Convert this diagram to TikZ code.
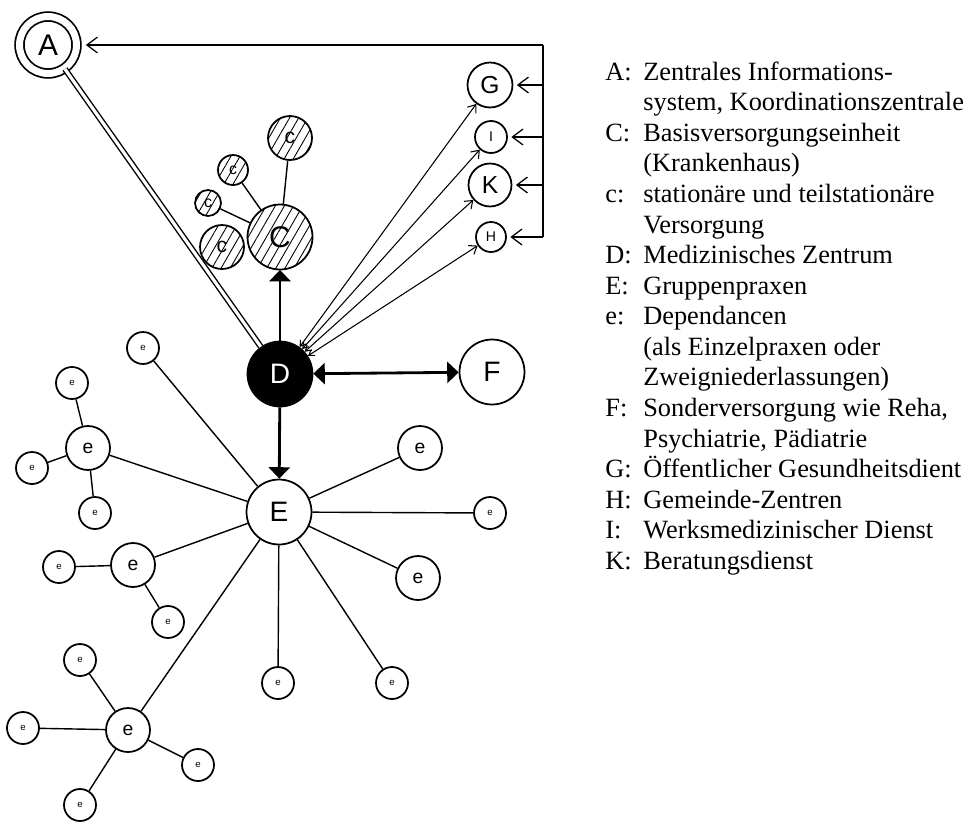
\documentclass[tikz,border=0pt]{standalone}
\usepackage{fontspec}
\setmainfont{Liberation Serif}
\setsansfont{Liberation Sans}
\usepackage{tikz}
\usetikzlibrary{arrows.meta,patterns.meta}

\begin{document}
\begin{tikzpicture}[x=0.02cm,y=-0.02cm,
	ring/.style={circle,draw,line width=1pt,inner sep=0pt,minimum size=#1},
	bigring/.style={ring=1.3cm,font=\sffamily\fontsize{16}{16}\selectfont},
	ering/.style={ring=0.88cm,font=\sffamily\fontsize{11}{11}\selectfont},
	leaf/.style={ring=0.64cm,font=\sffamily\fontsize{5.5}{5.5}\selectfont},
	hatch/.style={pattern={Lines[angle=60,distance=4.5pt,line width=0.5pt]}},
	link/.style={line width=0.8pt},
	heavy/.style={line width=1.6pt},
	tri/.tip={Triangle[length=6.5pt,width=12pt]},
	barb/.tip={Straight Barb[length=6pt,width=9pt]},
	feed/.style={line width=0.7pt,-barb,shorten >=2pt},
	ray/.style={line width=0.6pt,{Straight Barb[length=3pt,width=4pt]}-{Straight Barb[length=4pt,width=6pt]}}]
	
	\useasboundingbox (0,0) rectangle (969,825);
	
	% Informationssystem und Dienste
	\node[ring=1.14cm,double,double distance=0.14cm,font=\sffamily\fontsize{17}{17}\selectfont] (A) at (48,45) {A};
	\node[ring=0.9cm,font=\sffamily\fontsize{14}{14}\selectfont] (G) at (490,85) {G};
	\node[ring=0.64cm,font=\sffamily\fontsize{8}{8}\selectfont] (I) at (491,137) {I};
	\node[ring=0.86cm,font=\sffamily\fontsize{14}{14}\selectfont] (K) at (490,185) {K};
	\node[ring=0.6cm,font=\sffamily\fontsize{8}{8}\selectfont] (H) at (491,237) {H};
	
	\coordinate (tr) at (543,45);
	\coordinate (br) at (543,237);
	\draw[link] (tr) -- (br);
	\draw[feed,shorten >=0.17cm] (tr) -- (A.east);
	\draw[feed] (G -| tr) -- (G);
	\draw[feed] (I -| tr) -- (I);
	\draw[feed] (K -| tr) -- (K);
	\draw[feed] (H -| tr) -- (H);
	
	% Medizinisches Zentrum
	\node[bigring,fill=black,text=white] (D) at (280,374) {D};
	\node[bigring] (F) at (492,372) {F};
	\node[bigring] (E) at (279,512) {E};
	
	% Basisversorgung
	\node[bigring,hatch,font=\sffamily\fontsize{17}{17}\selectfont] (C) at (280,237) {C};
	\node[ring=0.88cm,hatch,font=\sffamily\fontsize{12}{12}\selectfont] (c1) at (290,138) {c};
	\node[ring=0.6cm,hatch,font=\sffamily\fontsize{9}{9}\selectfont] (c2) at (233,170) {c};
	\node[ring=0.52cm,hatch,font=\sffamily\fontsize{9}{9}\selectfont] (c3) at (208,203) {c};
	\node[ring=0.88cm,hatch,font=\sffamily\fontsize{12}{12}\selectfont] (c4) at (222,247) {c};
	\draw[link] (c1) -- (C);
	\draw[link] (c2) -- (C);
	\draw[link] (c3) -- (C);
	
	\draw[link,double,double distance=1.8pt] (A) -- (D);
	\draw[heavy,-tri] (D) -- (C);
	\draw[heavy,-tri] (D) -- (E);
	\draw[heavy,tri-tri] (D) -- (F);
	\draw[ray] (D) -- (G);
	\draw[ray] (D) -- (I);
	\draw[ray] (D) -- (K);
	\draw[ray] (D) -- (H);
	
	% Gruppenpraxen und Dependancen
	\node[leaf] (e1) at (143,348) {e};
	\node[ering] (e2) at (420,448) {e};
	\node[leaf] (e3) at (490,513) {e};
	\node[ering] (e4) at (418,578) {e};
	\node[leaf] (e5) at (392,683) {e};
	\node[leaf] (e6) at (278,683) {e};
	
	\node[ering] (ea) at (88,448) {e};
	\node[leaf] (ea1) at (72,383) {e};
	\node[leaf] (ea2) at (32,468) {e};
	\node[leaf] (ea3) at (95,513) {e};
	
	\node[ering] (eb) at (133,565) {e};
	\node[leaf] (eb1) at (59,567) {e};
	\node[leaf] (eb2) at (168,622) {e};
	
	\node[ering] (ec) at (128,730) {e};
	\node[leaf] (ec1) at (80,660) {e};
	\node[leaf] (ec2) at (23,728) {e};
	\node[leaf] (ec3) at (198,765) {e};
	\node[leaf] (ec4) at (80,805) {e};
	
	\foreach \n in {e1,e2,e3,e4,e5,e6,ea,eb,ec}
		\draw[link] (E) -- (\n);
	\foreach \n in {ea1,ea2,ea3}
		\draw[link] (ea) -- (\n);
	\foreach \n in {eb1,eb2}
		\draw[link] (eb) -- (\n);
	\foreach \n in {ec1,ec2,ec3,ec4}
		\draw[link] (ec) -- (\n);
	
	% Legende
	\node[anchor=north west,inner sep=0pt,font=\fontsize{15}{17.4}\selectfont] (legend) at (605,58.5) {%
		\begin{tabular}{@{}p{0.76cm}@{}l@{}}
			A: & Zentrales Informations-\\
			   & system, Koordinationszentrale\\
			C: & Basisversorgungseinheit\\
			   & (Krankenhaus)\\
			c: & stationäre und teilstationäre\\
			   & Versorgung\\
			D: & Medizinisches Zentrum\\
			E: & Gruppenpraxen\\
			e: & Dependancen\\
			   & (als Einzelpraxen oder\\
			   & Zweigniederlassungen)\\
			F: & Sonderversorgung wie Reha,\\
			   & Psychiatrie, Pädiatrie\\
			G: & Öffentlicher Gesundheitsdient\\
			H: & Gemeinde-Zentren\\
			I: & Werksmedizinischer Dienst\\
			K: & Beratungsdienst
		\end{tabular}};
	
\end{tikzpicture}
\end{document}
